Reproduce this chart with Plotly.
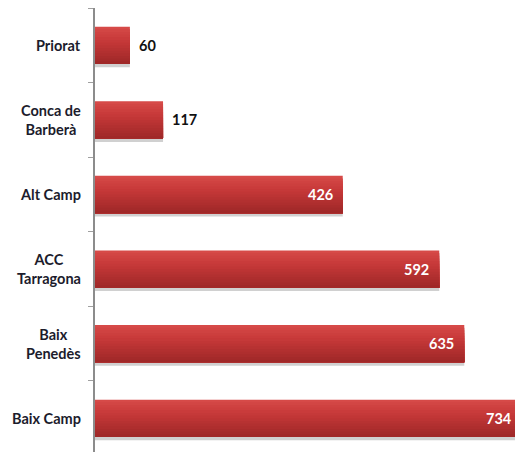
import plotly.graph_objects as go

categories = ["Priorat", "Conca de Barberà", "Alt Camp", "ACC Tarragona", "Baix Penedès", "Baix Camp"]
label_text = ["Priorat", "Conca de<br>Barberà", "Alt Camp", "ACC<br>Tarragona", "Baix<br>Penedès", "Baix Camp"]
values = [60, 117, 426, 592, 635, 734]
inside_flags = [False, False, True, True, True, True]

fig = go.Figure()

bar_w = 0.5
# shadow
fig.add_trace(go.Bar(
    y=categories, x=values, orientation="h",
    width=bar_w, offset=-bar_w / 2 + 0.045,
    marker=dict(color="rgba(150,150,150,0.45)", line=dict(width=0)),
    hoverinfo="skip", showlegend=False,
))

# gradient bands (top light -> bottom dark); each band runs to the bar bottom
top_rgb = (214, 74, 72)
mid_rgb = (200, 58, 58)
bot_rgb = (160, 40, 40)
N = 14
for i in range(N):
    t = i / (N - 1)
    if t < 0.35:
        u = t / 0.35
        c = tuple(int(top_rgb[k] + (mid_rgb[k] - top_rgb[k]) * u) for k in range(3))
    else:
        u = (t - 0.35) / 0.65
        c = tuple(int(mid_rgb[k] + (bot_rgb[k] - mid_rgb[k]) * u) for k in range(3))
    start = i * bar_w / N
    fig.add_trace(go.Bar(
        y=categories, x=values, orientation="h",
        width=bar_w - start, offset=-bar_w / 2 + start,
        marker=dict(color="rgb(%d,%d,%d)" % c, line=dict(width=0)),
        hoverinfo="skip", showlegend=False,
    ))

annotations = []
for cat, lab in zip(categories, label_text):
    annotations.append(dict(
        x=0, y=cat, xref="x", yref="y", text="<b>%s</b>" % lab,
        showarrow=False, xanchor="right", yanchor="middle", xshift=-12,
        align="center", font=dict(family="Lato", size=14.5, color="#1c1c2c"),
    ))
for cat, v, inside in zip(categories, values, inside_flags):
    annotations.append(dict(
        x=v, y=cat, xref="x", yref="y", text="<b>%d</b>" % v,
        showarrow=False,
        xanchor="right" if inside else "left",
        xshift=-8 if inside else 7,
        yanchor="middle",
        font=dict(family="Lato", size=14.5, color="white" if inside else "#111111"),
    ))

fig.update_layout(
    width=515, height=444,
    margin=dict(l=87, r=0, t=0, b=0),
    paper_bgcolor="white", plot_bgcolor="white",
    barmode="overlay",
    annotations=annotations,
    xaxis=dict(range=[0, 736], visible=False, showgrid=False, zeroline=False),
    yaxis=dict(
        type="category", categoryorder="array", categoryarray=categories,
        range=[5.452, -0.5],
        showticklabels=False, showgrid=False, zeroline=False,
        showline=True, linecolor="#8c8c8c", linewidth=2,
        ticks="outside", tickson="boundaries", ticklen=5, tickcolor="#a0a0a0", tickwidth=1,
    ),
)

fig.write_html("out.html")
